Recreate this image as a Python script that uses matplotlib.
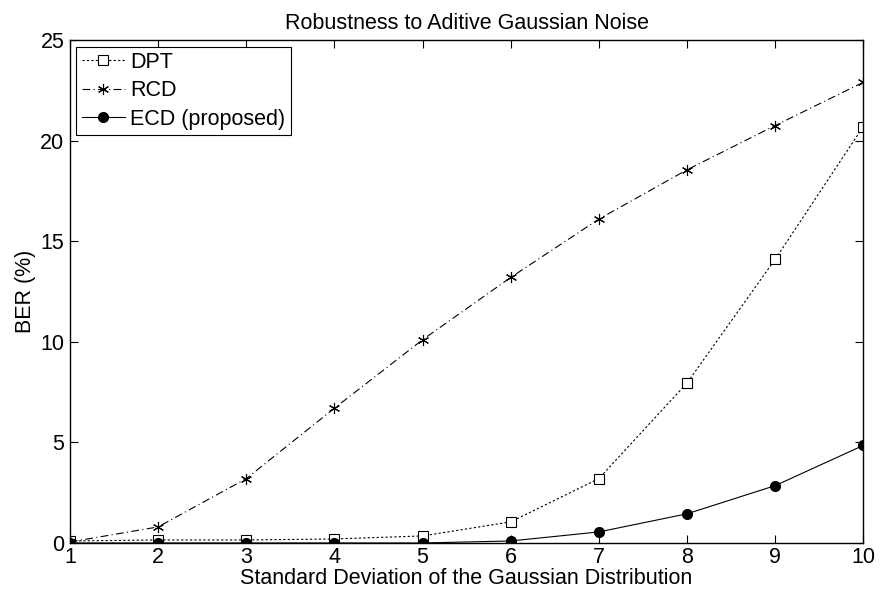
import matplotlib
matplotlib.use('Agg')
import matplotlib.pyplot as plt

plt.rcParams['font.family'] = ['Liberation Sans', 'DejaVu Sans']

x = [1, 2, 3, 4, 5, 6, 7, 8, 9, 10]
dpt = [0.1, 0.15, 0.15, 0.2, 0.35, 1.05, 3.2, 7.95, 14.1, 20.7]
rcd = [0.05, 0.8, 3.2, 6.7, 10.1, 13.2, 16.1, 18.55, 20.75, 22.9]
ecd = [0.0, 0.0, 0.0, 0.0, 0.0, 0.1, 0.55, 1.45, 2.85, 4.85]

fig = plt.figure(figsize=(8.8, 5.98), dpi=100)
ax = fig.add_axes([0.0795, 0.092, 0.9015, 0.841])

ax.plot(x, dpt, color='black', linestyle=(0, (2, 2)), linewidth=0.8,
        marker='s', markersize=7, markerfacecolor='white', markeredgewidth=0.8,
        label='DPT')
ax.plot(x, rcd, color='black', linestyle=(0, (7, 3, 1, 3)), linewidth=0.8,
        marker=(6, 2, 0), markersize=8, markeredgewidth=0.8, label='RCD')
ax.plot(x, ecd, color='black', linestyle='-', linewidth=0.8,
        marker='o', markersize=7, label='ECD (proposed)')

ax.set_xlim(1, 10)
ax.set_ylim(0, 25)
ax.set_xticks(x)
ax.set_yticks([0, 5, 10, 15, 20, 25])
ax.tick_params(direction='in', top=True, right=True, labelsize=15.5, length=6)
ax.tick_params(axis='x', pad=3)
ax.tick_params(axis='y', pad=4)
for s in ax.spines.values():
    s.set_linewidth(1.0)

ax.set_xlabel('Standard Deviation of the Gaussian Distribution', fontsize=15.5, labelpad=0)
ax.set_ylabel('BER (%)', fontsize=15.5, labelpad=3)
ax.set_title('Robustness to Aditive Gaussian Noise', fontsize=15.5, pad=8)

leg = ax.legend(loc='upper left', fontsize=15.5, fancybox=False, framealpha=1,
                edgecolor='black', borderaxespad=0.3, handlelength=2.0,
                handletextpad=0.25, labelspacing=0.35, borderpad=0.25)
leg.get_frame().set_linewidth(0.8)

plt.savefig('out.png', dpi=100)
